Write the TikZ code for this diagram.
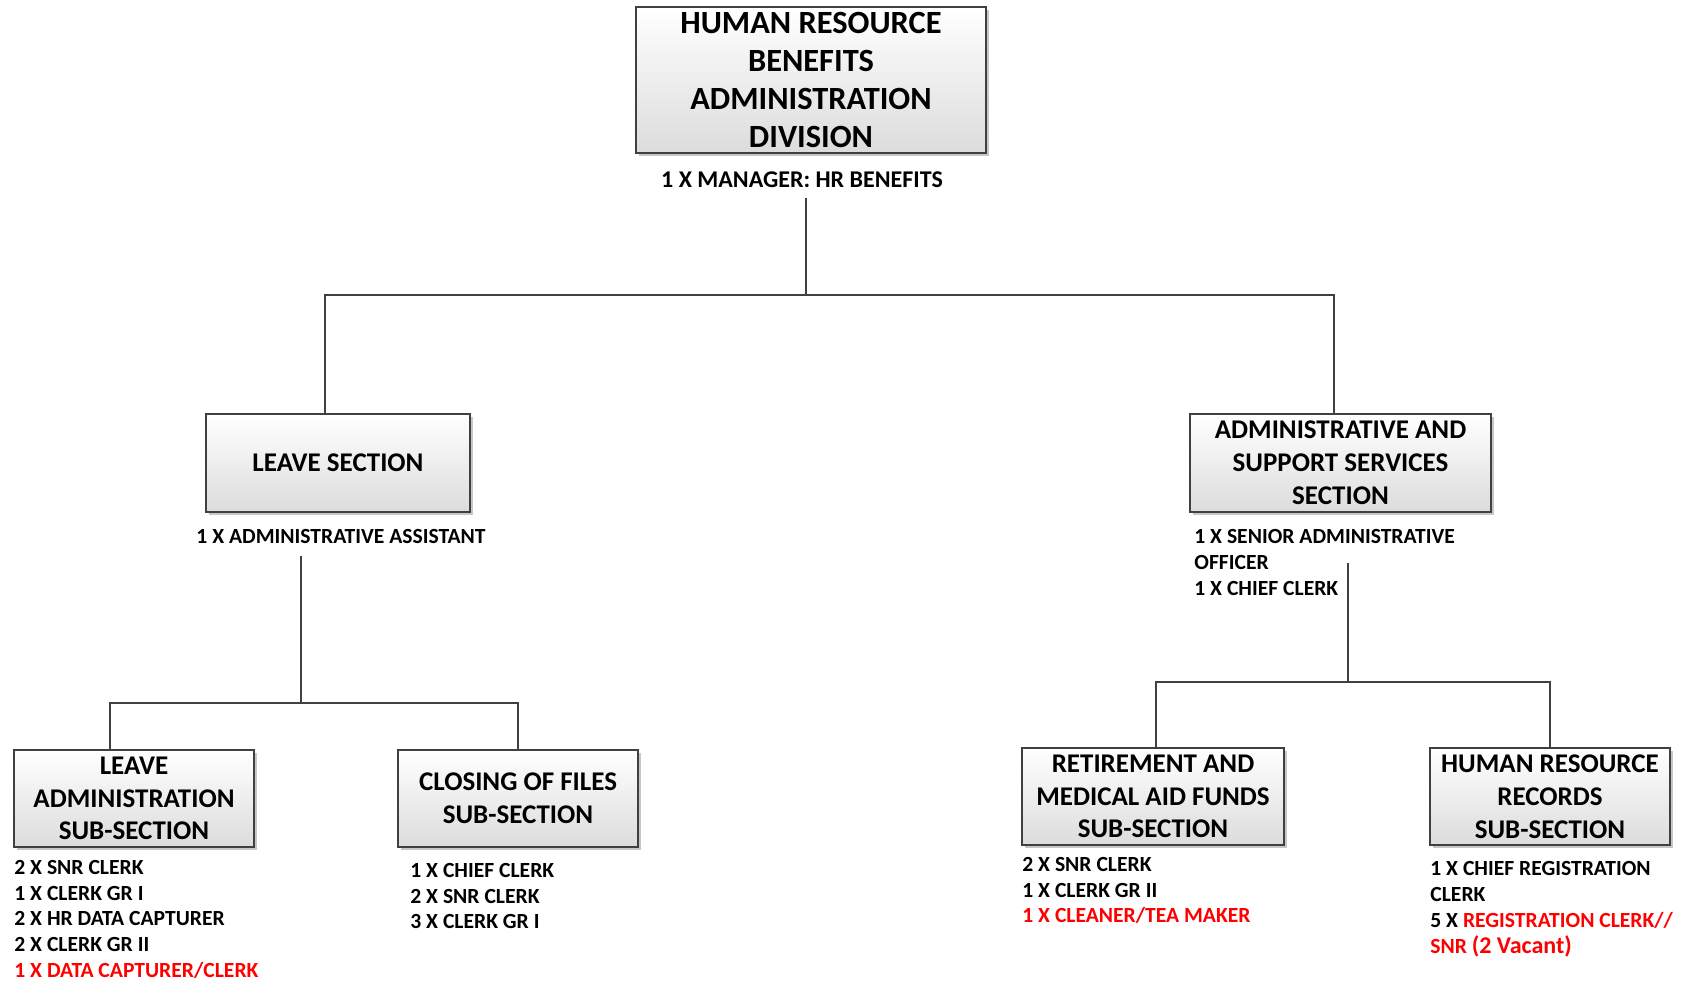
\documentclass[tikz,border=0pt]{standalone}
\usepackage{fontspec}
\setmainfont{Carlito}
\usetikzlibrary{shadows}
\definecolor{boxline}{HTML}{404040}
\definecolor{boxfill}{HTML}{DCDCDC}
\definecolor{vacant}{HTML}{FF0000}
\tikzset{
  unitbox/.style={draw=boxline, line width=1pt, top color=white, bottom color=boxfill,
    drop shadow={shadow xshift=1.6pt, shadow yshift=-1.6pt, fill=black!22, opacity=1},
    align=center, inner sep=1pt, font=\bfseries\fontsize{13.5}{16.4}\selectfont},
  staff/.style={anchor=north west, align=left, inner sep=0pt,
    font=\bfseries\fontsize{10.8}{12.85}\selectfont},
  wire/.style={draw=boxline, line width=0.9pt},
}
\begin{document}
\begin{tikzpicture}[x=0.5pt, y=-0.5pt]
    \useasboundingbox (0,0) rectangle (1682,982);
    % division
    \node[unitbox, minimum width=175pt, minimum height=73pt,
      font=\bfseries\fontsize{16.2}{19}\selectfont] (division) at (811,80)
      {HUMAN RESOURCE\\BENEFITS\\ADMINISTRATION\\DIVISION};
    \node[staff, anchor=base, font=\bfseries\fontsize{12}{14}\selectfont] (mgr) at (802,187)
      {1 X MANAGER: HR BENEFITS};
    % sections
    \node[unitbox, minimum width=132pt, minimum height=49pt] (leave) at (338,463) {LEAVE SECTION};
    \node[staff, anchor=base] (leavelab) at (341,543) {1 X ADMINISTRATIVE ASSISTANT};
    \node[unitbox, minimum width=150.5pt, minimum height=49pt] (admin) at (1340.5,463)
      {ADMINISTRATIVE AND\\SUPPORT SERVICES\\SECTION};
    \node[staff, font=\bfseries\fontsize{10.8}{13}\selectfont] (adminlab) at (1194,529)
      {1 X SENIOR ADMINISTRATIVE\\OFFICER\\1 X CHIEF CLERK};
    % sub-sections
    \node[unitbox, minimum width=120pt, minimum height=48.5pt] (ladmin) at (134,798.5)
      {LEAVE\\ADMINISTRATION\\SUB-SECTION};
    \node[staff] (ladminlab) at (14,860)
      {2 X SNR CLERK\\1 X CLERK GR I\\2 X HR DATA CAPTURER\\2 X CLERK GR II\\
       \textcolor{vacant}{1 X DATA CAPTURER/CLERK}};
    \node[unitbox, minimum width=120pt, minimum height=48.5pt] (closing) at (518,798.5)
      {CLOSING OF FILES\\SUB-SECTION};
    \node[staff] (closinglab) at (410,863) {1 X CHIEF CLERK\\2 X SNR CLERK\\3 X CLERK GR I};
    \node[unitbox, minimum width=131pt, minimum height=48.5pt] (retire) at (1153,796.5)
      {RETIREMENT AND\\MEDICAL AID FUNDS\\SUB-SECTION};
    \node[staff] (retirelab) at (1022,857)
      {2 X SNR CLERK\\1 X CLERK GR II\\\textcolor{vacant}{1 X CLEANER/TEA MAKER}};
    \node[unitbox, minimum width=120pt, minimum height=48.5pt] (records) at (1550,796.5)
      {HUMAN RESOURCE\\RECORDS\\SUB-SECTION};
    \node[staff, font=\bfseries\fontsize{10.8}{13}\selectfont] (recordslab) at (1430,861)
      {1 X CHIEF REGISTRATION\\CLERK\\5 X \textcolor{vacant}{REGISTRATION CLERK//}\\
       \textcolor{vacant}{SNR {\fontsize{12}{13}\selectfont(2 Vacant)}}};
    % connectors
    \coordinate (hubtop) at (806,295);
    \coordinate (hubleave) at (301,703);
    \coordinate (hubadmin) at (1348,682);
    \draw[wire] ([yshift=-5pt]mgr.south -| hubtop) -- (hubtop);
    \draw[wire] ([xshift=-6.5pt]leave.north) |- (hubtop) -| ([xshift=-3.25pt]admin.north);
    \draw[wire] ([yshift=-6pt]leavelab.south -| hubleave) -- (hubleave);
    \draw[wire] ([xshift=-12pt]ladmin.north) |- (hubleave) -| (closing.north);
    \draw[wire] (adminlab.east -| hubadmin) -- (hubadmin);
    \draw[wire] ([xshift=1.5pt]retire.north) |- (hubadmin) -| (records.north);
\end{tikzpicture}
\end{document}
